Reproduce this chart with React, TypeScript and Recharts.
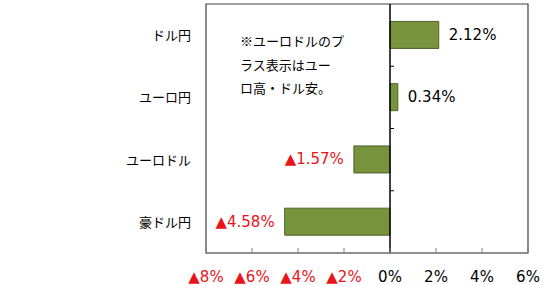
import { BarChart, Bar, XAxis, YAxis, ReferenceLine, ReferenceArea, LabelList } from "recharts"

const categories = ["ドル円", "ユーロ円", "ユーロドル", "豪ドル円"]
const changes = [2.12, 0.34, -1.57, -4.58]
const xTicks = [-8, -6, -4, -2, 0, 2, 4, 6]
const noteLines = ["※ユーロドルのプ", "ラス表示はユー", "ロ高・ドル安。"]

const data = categories.map((name, i) => ({ name, value: changes[i] }))

const FONT = "'DejaVu Sans', 'Noto Sans CJK JP', sans-serif"
const JP_FONT = "'Noto Sans CJK JP', sans-serif"
const RED = "#E8141B"

function XTick({ x, y, payload }: any) {
  const v = payload.value as number
  return (
    <text x={x} y={y} dy={14} textAnchor="middle" fontSize={15} fontFamily={FONT} fill={v < 0 ? RED : "#000"}>
      {v < 0 ? `▲${-v}%` : `${v}%`}
    </text>
  )
}

function YTick({ x, y, payload }: any) {
  return (
    <text x={x} y={y} dy={5} textAnchor="end" fontSize={13} fontFamily={JP_FONT} fill="#000">
      {payload.value}
    </text>
  )
}

function ValueLabel({ x, y, width, height, value }: any) {
  const end = x + width
  const cy = y + height / 2 + 5
  if (value < 0) {
    const left = Math.min(x, end)
    return (
      <text x={left - 10} y={cy} textAnchor="end" fontSize={15} fontFamily={FONT} fill={RED}>
        {`▲${Math.abs(value).toFixed(2)}%`}
      </text>
    )
  }
  const right = Math.max(x, end)
  return (
    <text x={right + 10} y={cy} textAnchor="start" fontSize={15} fontFamily={FONT} fill="#000">
      {`${value.toFixed(2)}%`}
    </text>
  )
}

// zero line with small ticks at the category boundaries
function ZeroLine(p: any) {
  const top = Math.min(p.y1, p.y2)
  const h = Math.abs(p.y2 - p.y1)
  const n = categories.length
  return (
    <g>
      <line x1={p.x1} y1={p.y1} x2={p.x2} y2={p.y2} stroke="#000" strokeWidth={1.5} />
      {Array.from({ length: n - 1 }, (_, k) => (
        <line key={k} x1={p.x1} x2={p.x1 + 4} y1={top + (h * (k + 1)) / n} y2={top + (h * (k + 1)) / n} stroke="#000" strokeWidth={1} />
      ))}
    </g>
  )
}

export default function App() {
  return (
    <div style={{ position: "absolute", left: 0, top: 0, width: 550, height: 285, background: "#fff" }}>
      <BarChart
        width={550}
        height={285}
        data={data}
        layout="vertical"
        margin={{ top: 4, right: 22, left: 0, bottom: 0 }}
        barCategoryGap="28%"
      >
        <ReferenceArea x1={-8} x2={6} fill="none" stroke="#404040" strokeWidth={1.2} />
        <XAxis
          type="number"
          domain={[-8, 6]}
          ticks={xTicks}
          height={32}
          axisLine={{ stroke: "#808080" }}
          tickLine={{ stroke: "#808080" }}
          tickSize={-5}
          tickMargin={20}
          tick={<XTick />}
        />
        <YAxis
          type="category"
          dataKey="name"
          width={206}
          axisLine={false}
          tickLine={false}
          tickSize={0}
          tickMargin={15}
          tick={<YTick />}
        />
        <Bar dataKey="value" fill="#77933C" stroke="#4F6228" strokeWidth={1} isAnimationActive={false}>
          <LabelList dataKey="value" content={<ValueLabel />} />
        </Bar>
        <ReferenceLine x={0} shape={ZeroLine} />
      </BarChart>
      <div
        style={{
          position: "absolute",
          left: 240,
          top: 29,
          fontFamily: JP_FONT,
          fontSize: 13,
          lineHeight: "23.5px",
          color: "#000",
        }}
      >
        {noteLines.map((l) => (
          <div key={l}>{l}</div>
        ))}
      </div>
    </div>
  )
}
